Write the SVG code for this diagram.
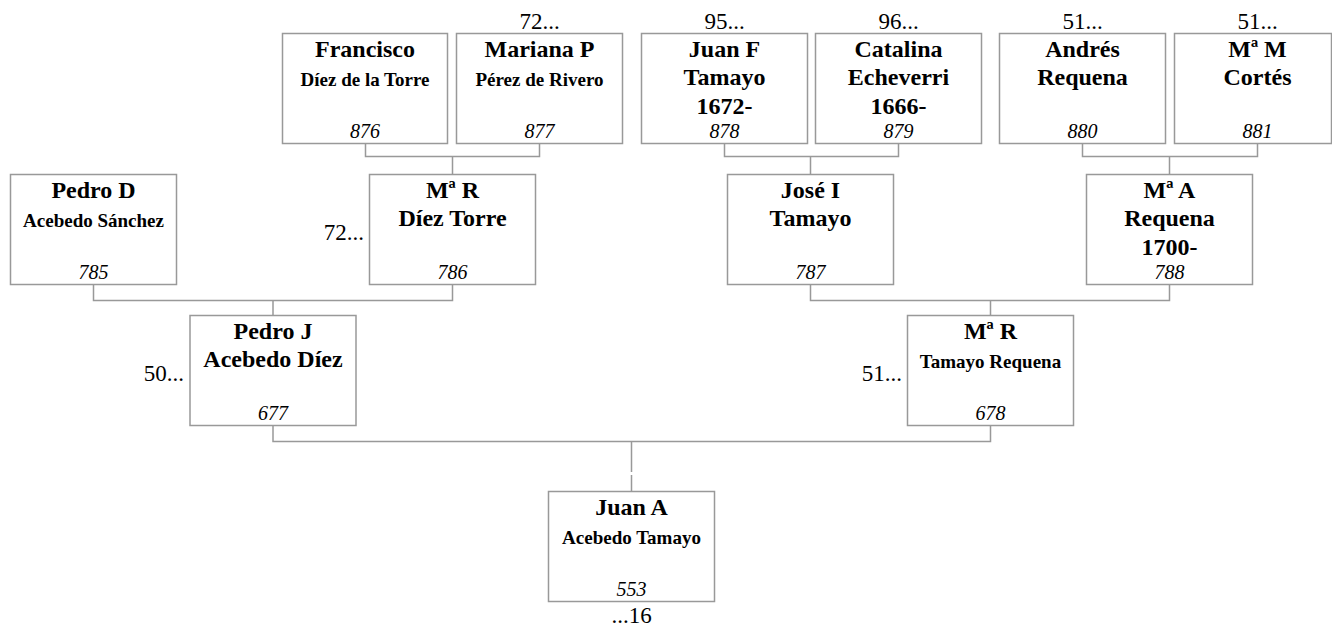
<svg xmlns="http://www.w3.org/2000/svg" width="1332" height="626" viewBox="0 0 1332 626" font-family="'Liberation Serif', 'Times New Roman', Times, serif">
<style>
.box{fill:#fff;stroke:#999;stroke-width:1.5}
.con{fill:none;stroke:#999;stroke-width:1.5}
text{fill:#000;text-anchor:middle}
.n{font-size:24px;font-weight:bold}
.s{font-size:19px;font-weight:bold}
.num{font-size:20px;font-style:italic}
.lab{font-size:23px}
.lab-end{font-size:23px;text-anchor:end}
</style>
<rect width="1332" height="626" fill="#fff"/>
<g id="connectors">
<path class="con" d="M365.5 143.5V156.5H539.5V143.5M452.5 156.5V174.5"/>
<path class="con" d="M724.5 143.5V156.5H898.5V143.5M810.5 156.5V174.5"/>
<path class="con" d="M1082.5 143.5V156.5H1257.5V143.5M1169.5 156.5V174.5"/>
<path class="con" d="M93.5 284.5V300.5H452.5V284.5M273 300.5V315.5"/>
<path class="con" d="M810.5 284.5V300.5H1169.5V284.5M990.5 300.5V315.5"/>
<path class="con" d="M273 425.5V441.5H990.5V425.5M631.5 441.5V472M631.5 475V491.5"/>
</g>
<g id="n876">
<rect class="box" x="282.5" y="33.5" width="165" height="110"/>
<text class="n" x="365" y="57">Francisco</text>
<text class="s" x="365" y="86">Díez de la Torre</text>
<text class="num" x="365" y="138">876</text>
</g>
<g id="n877">
<rect class="box" x="456.5" y="33.5" width="166" height="110"/>
<text class="lab" x="539.5" y="28.5">72...</text>
<text class="n" x="539.5" y="57">Mariana P</text>
<text class="s" x="539.5" y="86">Pérez de Rivero</text>
<text class="num" x="539.5" y="138">877</text>
</g>
<g id="n878">
<rect class="box" x="641.5" y="33.5" width="166" height="110"/>
<text class="lab" x="724.5" y="28.5">95...</text>
<text class="n" x="724.5" y="57">Juan F</text>
<text class="n" x="724.5" y="85">Tamayo</text>
<text class="n" x="724.5" y="113.5">1672-</text>
<text class="num" x="724.5" y="138">878</text>
</g>
<g id="n879">
<rect class="box" x="815.5" y="33.5" width="166" height="110"/>
<text class="lab" x="898.5" y="28.5">96...</text>
<text class="n" x="898.5" y="57">Catalina</text>
<text class="n" x="898.5" y="85">Echeverri</text>
<text class="n" x="898.5" y="113.5">1666-</text>
<text class="num" x="898.5" y="138">879</text>
</g>
<g id="n880">
<rect class="box" x="999.5" y="33.5" width="166" height="110"/>
<text class="lab" x="1082.5" y="28.5">51...</text>
<text class="n" x="1082.5" y="57">Andrés</text>
<text class="n" x="1082.5" y="85">Requena</text>
<text class="num" x="1082.5" y="138">880</text>
</g>
<g id="n881">
<rect class="box" x="1174.5" y="33.5" width="157" height="110"/>
<text class="lab" x="1257.5" y="28.5">51...</text>
<text class="n" x="1257.5" y="57">Mª M</text>
<text class="n" x="1257.5" y="85">Cortés</text>
<text class="num" x="1257.5" y="138">881</text>
</g>
<g id="n785">
<rect class="box" x="10.5" y="174.5" width="166" height="110"/>
<text class="n" x="93.5" y="198">Pedro D</text>
<text class="s" x="93.5" y="227">Acebedo Sánchez</text>
<text class="num" x="93.5" y="279">785</text>
</g>
<g id="n786">
<rect class="box" x="369.5" y="174.5" width="166" height="110"/>
<text class="lab-end" x="364" y="239.5">72...</text>
<text class="n" x="452.5" y="198">Mª R</text>
<text class="n" x="452.5" y="226">Díez Torre</text>
<text class="num" x="452.5" y="279">786</text>
</g>
<g id="n787">
<rect class="box" x="727.5" y="174.5" width="166" height="110"/>
<text class="n" x="810.5" y="198">José I</text>
<text class="n" x="810.5" y="226">Tamayo</text>
<text class="num" x="810.5" y="279">787</text>
</g>
<g id="n788">
<rect class="box" x="1086.5" y="174.5" width="166" height="110"/>
<text class="n" x="1169.5" y="198">Mª A</text>
<text class="n" x="1169.5" y="226">Requena</text>
<text class="n" x="1169.5" y="254.5">1700-</text>
<text class="num" x="1169.5" y="279">788</text>
</g>
<g id="n677">
<rect class="box" x="190" y="315.5" width="166" height="110"/>
<text class="lab-end" x="184" y="381">50...</text>
<text class="n" x="273" y="339">Pedro J</text>
<text class="n" x="273" y="367">Acebedo Díez</text>
<text class="num" x="273" y="420">677</text>
</g>
<g id="n678">
<rect class="box" x="907.5" y="315.5" width="166" height="110"/>
<text class="lab-end" x="902" y="381">51...</text>
<text class="n" x="990.5" y="339">Mª R</text>
<text class="s" x="990.5" y="368">Tamayo Requena</text>
<text class="num" x="990.5" y="420">678</text>
</g>
<g id="n553">
<rect class="box" x="548.5" y="491.5" width="166" height="110"/>
<text class="n" x="631.5" y="515">Juan A</text>
<text class="s" x="631.5" y="544">Acebedo Tamayo</text>
<text class="num" x="631.5" y="596">553</text>
<text class="lab" x="631.5" y="623">...16</text>
</g>
</svg>
